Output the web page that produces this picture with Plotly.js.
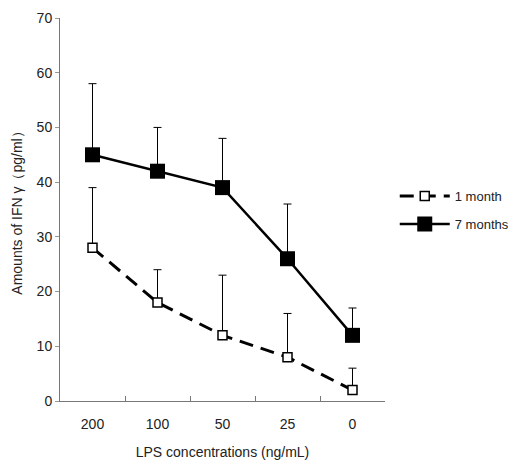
<!DOCTYPE html>
<html><head><meta charset="utf-8">
<script src="https://cdn.plot.ly/plotly-3.0.1.min.js"></script>
<style>html,body{margin:0;padding:0;background:#fff}#chart{width:515px;height:470px}</style>
</head><body><div id="chart"></div>
<script>
const categories = ["200", "100", "50", "25", "0"];
const oneMonth = [28, 18, 12, 8, 2];
const oneMonthErr = [11, 6, 11, 8, 4];
const sevenMonths = [45, 42, 39, 26, 12];
const sevenMonthsErr = [13, 8, 9, 10, 5];
const zeros = [0, 0, 0, 0, 0];

const font = "Liberation Sans, Arial, sans-serif";
const traces = [
  {
    x: categories, y: oneMonth, name: "1 month", type: "scatter", mode: "lines+markers",
    line: {color: "#000", width: 3, dash: "14px,8px"},
    marker: {symbol: "square", size: 9, color: "#fff", line: {color: "#000", width: 1.5}},
    error_y: {type: "data", array: oneMonthErr, arrayminus: zeros, symmetric: false, color: "#000", thickness: 1, width: 4},
    legend: "legend"
  },
  {
    x: categories, y: sevenMonths, name: "7 months", type: "scatter", mode: "lines+markers",
    line: {color: "#000", width: 2.5},
    marker: {symbol: "square", size: 15, color: "#000"},
    error_y: {type: "data", array: sevenMonthsErr, arrayminus: zeros, symmetric: false, color: "#000", thickness: 1, width: 4},
    legend: "legend2"
  }
];
const layout = {
  width: 515, height: 470,
  margin: {l: 60, r: 130, t: 18, b: 69, autoexpand: false},
  paper_bgcolor: "#fff", plot_bgcolor: "#fff",
  font: {family: font, size: 12, color: "#222"},
  xaxis: {
    type: "category", range: [-0.5, 4.5], showgrid: false, zeroline: false,
    showline: true, linecolor: "#777", linewidth: 1,
    ticks: "inside", tickson: "boundaries", ticklen: 5, tickcolor: "#777",
    ticklabelstandoff: 10,
    tickfont: {size: 14, color: "#222"},
    title: {text: "LPS concentrations (ng/mL)", font: {size: 14, color: "#222"}, standoff: 16}
  },
  yaxis: {
    range: [0, 70], dtick: 10, showgrid: false, zeroline: false,
    showline: true, linecolor: "#777", linewidth: 1,
    ticks: "outside", ticklen: 4, tickcolor: "#999",
    tickfont: {size: 14, color: "#222"},
    title: {text: "Amounts of IFN γ（pg/ml）", font: {size: 14, color: "#222"}, standoff: 10}
  },
  legend: {x: 1.03, y: 0.535, xanchor: "left", yanchor: "middle", itemwidth: 50, bgcolor: "rgba(0,0,0,0)", font: {size: 13, color: "#222"}},
  legend2: {x: 1.03, y: 0.462, xanchor: "left", yanchor: "middle", itemwidth: 50, bgcolor: "rgba(0,0,0,0)", font: {size: 13, color: "#222"}},
  showlegend: true
};
Plotly.newPlot("chart", traces, layout, {displayModeBar: false, staticPlot: true});
</script></body></html>
